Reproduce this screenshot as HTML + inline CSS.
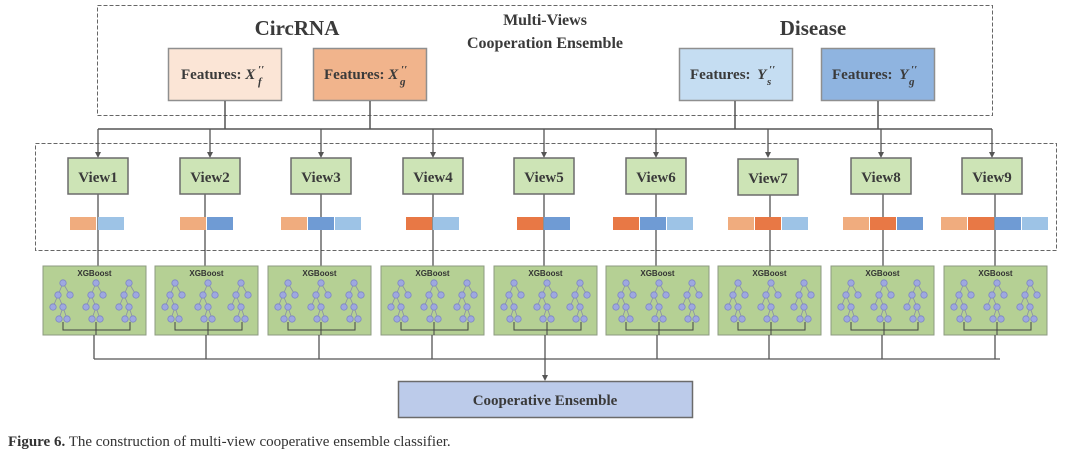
<!DOCTYPE html>
<html><head><meta charset="utf-8"><style>
html,body{margin:0;padding:0;background:#fff;}
svg{display:block;}
.t{font-family:"Liberation Serif",serif;font-weight:bold;fill:#3a3a3a;}
</style></head><body>
<svg width="1082" height="454" viewBox="0 0 1082 454" xmlns="http://www.w3.org/2000/svg">
<defs>
<g id="tree" stroke="#8a8fa8" stroke-width="0.8">
<line x1="20" y1="17" x2="15" y2="29"/><line x1="20" y1="17" x2="27" y2="29"/>
<line x1="15" y1="29" x2="10" y2="41"/><line x1="15" y1="29" x2="20" y2="41"/>
<line x1="20" y1="41" x2="16" y2="53"/><line x1="20" y1="41" x2="24" y2="53"/>
<g fill="#9ea8e0" stroke="#7d86c4" stroke-width="0.8">
<circle cx="20" cy="17" r="3.2"/><circle cx="15" cy="29" r="3.2"/><circle cx="27" cy="29" r="3.2"/>
<circle cx="10" cy="41" r="3.2"/><circle cx="20" cy="41" r="3.2"/>
<circle cx="16" cy="53" r="3.2"/><circle cx="24" cy="53" r="3.2"/>
</g></g>
<g id="xgb">
<rect x="0" y="0" width="103" height="69" fill="#b5d094" stroke="#8c9a80" stroke-width="1"/>
<text x="51.5" y="10" text-anchor="middle" font-family="Liberation Sans,sans-serif" font-weight="bold" font-size="8" fill="#333">XGBoost</text>
<use href="#tree" x="0"/><use href="#tree" x="33"/><use href="#tree" x="66"/>
<path d="M20,56 V64 H87 V56 M53,56 V69" fill="none" stroke="#444" stroke-width="1"/>
</g>
</defs>

<rect x="97.5" y="5.5" width="895" height="110" fill="none" stroke="#666" stroke-dasharray="4,2"/>
<text class="t" x="297" y="35" text-anchor="middle" font-size="21">CircRNA</text>
<text class="t" x="813" y="35" text-anchor="middle" font-size="21">Disease</text>
<text class="t" x="545" y="25" text-anchor="middle" font-size="16">Multi-Views</text>
<text class="t" x="545" y="48" text-anchor="middle" font-size="16">Cooperation Ensemble</text>

<rect x="168.5" y="48.5" width="113" height="52" fill="#fbe5d6" stroke="#8f8f8f" stroke-width="1.5"/>
<text class="t" x="181" y="79" font-size="15">Features: <tspan font-style="italic">X</tspan></text>
<text class="t" x="258" y="73" font-size="11" font-style="italic">′′</text>
<text class="t" x="258" y="85" font-size="11" font-style="italic">f</text>
<rect x="313.5" y="48.5" width="113" height="52" fill="#f1b48c" stroke="#8f8f8f" stroke-width="1.5"/>
<text class="t" x="324" y="79" font-size="15">Features: <tspan font-style="italic">X</tspan></text>
<text class="t" x="401" y="73" font-size="11" font-style="italic">′′</text>
<text class="t" x="400" y="85" font-size="11" font-style="italic">g</text>
<rect x="679.5" y="48.5" width="113" height="52" fill="#c5ddf2" stroke="#8f8f8f" stroke-width="1.5"/>
<text class="t" x="690" y="79" font-size="15">Features: <tspan font-style="italic" dx="3">Y</tspan></text>
<text class="t" x="769" y="73" font-size="11" font-style="italic">′′</text>
<text class="t" x="767" y="85" font-size="11" font-style="italic">s</text>
<rect x="821.5" y="48.5" width="113" height="52" fill="#8fb4e0" stroke="#8f8f8f" stroke-width="1.5"/>
<text class="t" x="832" y="79" font-size="15">Features: <tspan font-style="italic" dx="3">Y</tspan></text>
<text class="t" x="911" y="73" font-size="11" font-style="italic">′′</text>
<text class="t" x="909" y="85" font-size="11" font-style="italic">g</text>

<g stroke="#555" stroke-width="1.5" fill="none">
<path d="M225,101 V129 M370,101 V129 M735,101 V129 M878,101 V129"/>
<path d="M98,129 H992"/>
</g>
<rect x="35.5" y="143.5" width="1021" height="107" fill="none" stroke="#666" stroke-dasharray="4,2"/>

<g stroke="#555" stroke-width="1.3">
<line x1="98" y1="129" x2="98" y2="156"/><line x1="210" y1="129" x2="210" y2="156"/>
<line x1="321" y1="129" x2="321" y2="156"/><line x1="433" y1="129" x2="433" y2="156"/>
<line x1="544" y1="129" x2="544" y2="156"/><line x1="656" y1="129" x2="656" y2="156"/>
<line x1="768" y1="129" x2="768" y2="156"/><line x1="881" y1="129" x2="881" y2="156"/>
<line x1="992" y1="129" x2="992" y2="156"/>
</g>
<g fill="#555">
<path d="M95,152 L101,152 L98,158z"/><path d="M207,152 L213,152 L210,158z"/>
<path d="M318,152 L324,152 L321,158z"/><path d="M430,152 L436,152 L433,158z"/>
<path d="M541,152 L547,152 L544,158z"/><path d="M653,152 L659,152 L656,158z"/>
<path d="M765,152 L771,152 L768,158z"/><path d="M878,152 L884,152 L881,158z"/>
<path d="M989,152 L995,152 L992,158z"/>
</g>

<g stroke="#444" stroke-width="1.2">
<line x1="98" y1="194" x2="98" y2="266"/><line x1="205" y1="194" x2="205" y2="266"/>
<line x1="321" y1="194" x2="321" y2="266"/><line x1="433" y1="194" x2="433" y2="266"/>
<line x1="544" y1="194" x2="544" y2="266"/><line x1="656" y1="194" x2="656" y2="266"/>
<line x1="770" y1="194" x2="770" y2="266"/><line x1="883" y1="194" x2="883" y2="266"/>
<line x1="995" y1="194" x2="995" y2="266"/>
</g>

<g fill="#cde4b6" stroke="#6b6b6b" stroke-width="1.5">
<rect x="68" y="158" width="60" height="36"/><rect x="180" y="158" width="60" height="36"/>
<rect x="291" y="158" width="60" height="36"/><rect x="403" y="158" width="60" height="36"/>
<rect x="514" y="158" width="60" height="36"/><rect x="626" y="158" width="60" height="36"/>
<rect x="738" y="159" width="60" height="36"/><rect x="851" y="158" width="60" height="36"/>
<rect x="962" y="158" width="60" height="36"/>
</g>
<g class="t" font-size="15" text-anchor="middle">
<text x="98" y="182">View1</text><text x="210" y="182">View2</text><text x="321" y="182">View3</text>
<text x="433" y="182">View4</text><text x="544" y="182">View5</text><text x="656" y="182">View6</text>
<text x="768" y="183">View7</text><text x="881" y="182">View8</text><text x="992" y="182">View9</text>
</g>

<g>
<rect x="70" y="217" width="26" height="13" fill="#f0ac7e"/><rect x="98" y="217" width="26" height="13" fill="#9dc3e6"/>
<rect x="180" y="217" width="26" height="13" fill="#f0ac7e"/><rect x="207" y="217" width="26" height="13" fill="#6f9bd4"/>
<rect x="281" y="217" width="26" height="13" fill="#f0ac7e"/><rect x="308" y="217" width="26" height="13" fill="#6f9bd4"/><rect x="335" y="217" width="26" height="13" fill="#9dc3e6"/>
<rect x="406" y="217" width="26" height="13" fill="#e87845"/><rect x="433" y="217" width="26" height="13" fill="#9dc3e6"/>
<rect x="517" y="217" width="26" height="13" fill="#e87845"/><rect x="544" y="217" width="26" height="13" fill="#6f9bd4"/>
<rect x="613" y="217" width="26" height="13" fill="#e87845"/><rect x="640" y="217" width="26" height="13" fill="#6f9bd4"/><rect x="667" y="217" width="26" height="13" fill="#9dc3e6"/>
<rect x="728" y="217" width="26" height="13" fill="#f0ac7e"/><rect x="755" y="217" width="26" height="13" fill="#e87845"/><rect x="782" y="217" width="26" height="13" fill="#9dc3e6"/>
<rect x="843" y="217" width="26" height="13" fill="#f0ac7e"/><rect x="870" y="217" width="26" height="13" fill="#e87845"/><rect x="897" y="217" width="26" height="13" fill="#6f9bd4"/>
<rect x="941" y="217" width="26" height="13" fill="#f0ac7e"/><rect x="968" y="217" width="26" height="13" fill="#e87845"/><rect x="995" y="217" width="26" height="13" fill="#6f9bd4"/><rect x="1022" y="217" width="26" height="13" fill="#9dc3e6"/>
</g>

<use href="#xgb" x="43" y="266"/><use href="#xgb" x="155" y="266"/><use href="#xgb" x="268" y="266"/>
<use href="#xgb" x="381" y="266"/><use href="#xgb" x="494" y="266"/><use href="#xgb" x="606" y="266"/>
<use href="#xgb" x="718" y="266"/><use href="#xgb" x="831" y="266"/><use href="#xgb" x="944" y="266"/>

<g stroke="#555" stroke-width="1.3" fill="none">
<path d="M94,335 V359 M206,335 V359 M319,335 V359 M432,335 V359 M545,335 V359 M657,335 V359 M769,335 V359 M882,335 V359 M995,335 V359"/>
<path d="M94,359 H1000"/>
<path d="M545,359 V377"/>
</g>
<path d="M542,375 L548,375 L545,381z" fill="#555"/>

<rect x="398.5" y="381.5" width="294" height="36" fill="#bccbea" stroke="#6b6b6b" stroke-width="1.5"/>
<text class="t" x="545" y="405" text-anchor="middle" font-size="15">Cooperative Ensemble</text>

<text x="8" y="446" font-family="Liberation Serif,serif" font-size="15" fill="#333"><tspan font-weight="bold">Figure 6.</tspan> The construction of multi-view cooperative ensemble classifier.</text>
</svg>
</body></html>
